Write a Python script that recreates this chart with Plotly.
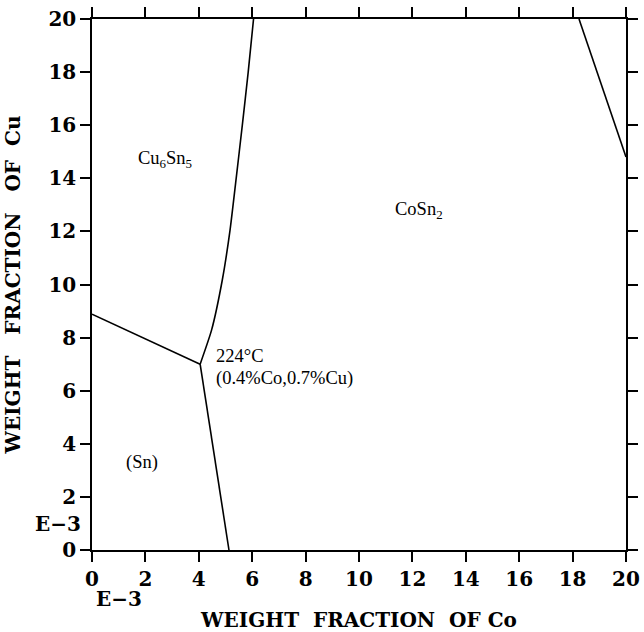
import plotly.graph_objects as go

# Phase boundaries (x = wt fraction Co, y = wt fraction Cu, both in units of 1E-3)
b1_x = [0.0, 4.05]
b1_y = [8.88, 7.0]
b2_x = [4.05, 4.48, 4.88, 5.17, 5.40, 5.63, 5.85, 6.05]
b2_y = [7.0, 8.29, 10.17, 12.05, 14.0, 16.0, 18.0, 20.0]
b3_x = [4.05, 5.13]
b3_y = [7.0, 0.0]
b4_x = [18.24, 20.0]
b4_y = [20.0, 14.8]

ticks = [0, 2, 4, 6, 8, 10, 12, 14, 16, 18, 20]

labels = [
    (2.75, 14.7, "Cu<sub>6</sub>Sn<sub>5</sub>", "center"),
    (12.25, 12.8, "CoSn<sub>2</sub>", "center"),
    (4.6, 7.32, "224°C", "left"),
    (4.6, 6.45, "(0.4%Co,0.7%Cu)", "left"),
    (1.88, 3.28, "(Sn)", "center"),
]

fig = go.Figure()
for xs, ys in [(b1_x, b1_y), (b2_x, b2_y), (b3_x, b3_y), (b4_x, b4_y)]:
    fig.add_trace(go.Scatter(x=xs, y=ys, mode="lines",
                             line=dict(color="black", width=1.6, shape="spline", smoothing=0.6),
                             showlegend=False, hoverinfo="skip"))

for x, y, t, al in labels:
    fig.add_annotation(x=x, y=y, text=t, showarrow=False, xanchor=al, yanchor="middle",
                       borderpad=0,
                       font=dict(family="Liberation Serif", size=18.5, color="black"))

titlefont = dict(family="DejaVu Serif", size=20, color="black", weight="bold")
common = dict(range=[0, 20], tickvals=ticks, ticks="outside", ticklen=10, tickwidth=1.5,
              tickcolor="black", showline=True, linecolor="black", linewidth=1.5,
              mirror="allticks", showgrid=False, zeroline=False, automargin=False,
              tickfont=dict(family="DejaVu Serif", size=20, color="black", weight="bold"))

nb = "\u00a0"
fig.update_xaxes(**common, title=dict(text="WEIGHT" + nb * 2 + "FRACTION" + nb * 2 + "OF Co",
                                      font=titlefont, standoff=36))
fig.update_yaxes(**common, title=dict(text="WEIGHT" + nb * 3 + "FRACTION" + nb * 3 + "OF" + nb * 2 + "Cu",
                                      font=titlefont, standoff=22))

efont = dict(family="DejaVu Serif", size=20, color="black", weight="bold")
fig.add_annotation(xref="paper", yref="paper", x=-0.064, y=0.049, text="E−3", showarrow=False,
                   xanchor="center", yanchor="middle", font=efont)
fig.add_annotation(xref="paper", yref="paper", x=0.0506, y=-0.092, text="E−3", showarrow=False,
                   xanchor="center", yanchor="middle", font=efont)

fig.update_layout(width=644, height=632, margin=dict(l=92, r=18, t=19, b=82),
                  plot_bgcolor="white", paper_bgcolor="white")
fig.write_html("out.html")
